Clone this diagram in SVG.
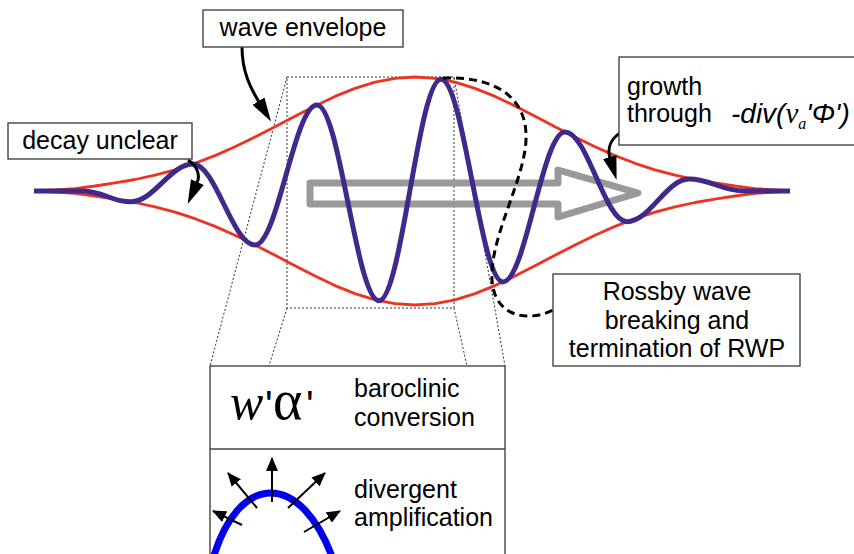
<svg xmlns="http://www.w3.org/2000/svg" width="854" height="554" viewBox="0 0 854 554">
<style>
.env{fill:none;stroke:#ee3322;stroke-width:2.8;stroke-linejoin:round}
.wave{fill:none;stroke:#3f2a8c;stroke-width:5;stroke-linejoin:round}
.dot{fill:none;stroke:#333;stroke-width:1;stroke-dasharray:2 2}
.box{fill:#fff;stroke:#444;stroke-width:1.4}
.lbl{font-family:"Liberation Sans",Arial,sans-serif;font-size:25px;fill:#000}
.conn{fill:none;stroke:#000;stroke-width:3}
.sm{fill:none;stroke:#000;stroke-width:2}
</style>
<defs>
<marker id="big" markerUnits="userSpaceOnUse" markerWidth="24" markerHeight="14" viewBox="0 0 24 14" refX="1" refY="7" orient="auto">
<path d="M0,0 L24,7 L0,14 z" fill="#000"/>
</marker>
<marker id="small" markerUnits="userSpaceOnUse" markerWidth="14" markerHeight="12" viewBox="0 0 14 12" refX="13" refY="6" orient="auto">
<path d="M0,0 L14,6 L0,12 z" fill="#000"/>
</marker>
</defs>
<rect width="854" height="554" fill="#fff"/>

<g id="zoom-frame">
<rect class="dot" x="287" y="77" width="167" height="231"/>
<line class="dot" x1="287" y1="77" x2="210" y2="366"/>
<line class="dot" x1="287" y1="308" x2="269" y2="366"/>
<line class="dot" x1="454" y1="308" x2="467" y2="366"/>
<line class="dot" x1="454" y1="77" x2="505" y2="366"/>
</g>

<g id="envelope">
<path class="env" d="M34,191 L55,190 L75,188.6 L95,186 L115,182.8 L135,179.5 L155,175.2 L175,169.8 L195,163.3 L215,155.6 L235,146.8 L255,137 L275,126.7 L295,116.2 L315,105.9 L335,96.4 L355,88.4 L375,82.2 L395,78.3 L415,77 L435,78.3 L455,82.2 L475,88.4 L495,96.4 L515,105.9 L535,116.2 L555,126.7 L575,137 L595,146.8 L615,155.6 L635,163.3 L655,169.8 L675,175.2 L695,179.5 L715,182.8 L735,186 L755,188.6 L775,190 L790,191"/>
<path class="env" d="M34,191 L55,192 L75,193.4 L95,196 L115,199.2 L135,202.5 L155,206.8 L175,212.2 L195,218.7 L215,226.4 L235,235.2 L255,245 L275,255.3 L295,265.8 L315,276.1 L335,285.6 L355,293.6 L375,299.8 L395,303.7 L415,305 L435,303.7 L455,299.8 L475,293.6 L495,285.6 L515,276.1 L535,265.8 L555,255.3 L575,245 L595,235.2 L615,226.4 L635,218.7 L655,212.2 L675,206.8 L695,202.5 L715,199.2 L735,196 L755,193.4 L775,192 L790,191"/>
</g>

<g id="propagation-arrow">
<path d="M310,183 L558,183 L558,170 L638,193 L558,217 L558,204 L310,204 Z" fill="none" stroke="#999" stroke-width="7" stroke-linejoin="round"/>
</g>

<g id="wave">
<path class="wave" d="M34,191 L80,191 C105,191 110,201.8 131,201.8 C153.5,201.8 170.5,164 193,164 C215.5,164 232.5,245 255,245 C277.5,245 294.5,104.9 317,104.9 C339.5,104.9 356.5,300.8 379,300.8 C401.5,300.8 418.5,79.2 441,79.2 C463.5,79.2 480.5,281.9 503,281.9 C525.5,281.9 542.5,131.9 565,131.9 C587.5,131.9 604.5,221.7 627,221.7 C649.5,221.7 666.5,179 689,179 C711.5,179 720,191 745,191 L790,191"/>
</g>

<g id="connectors">
<path class="conn" d="M443,78 C505,76 532,105 525,150 C519,190 490,240 492,280 C495,322 535,320 553,310" stroke-dasharray="8 5" stroke-width="3.3"/>
<path class="conn" d="M242,47 C242,72 251,89 259,102" marker-end="url(#big)"/>
<path class="conn" d="M188,160 C196,165 201,174 197,183" marker-end="url(#big)"/>
<path class="conn" d="M620,133 C611,139 607,148 610,158" marker-end="url(#big)"/>
</g>

<g id="label-wave-envelope">
<rect class="box" x="203" y="10" width="200" height="37"/>
<text class="lbl" x="303" y="36" text-anchor="middle">wave envelope</text>
</g>

<g id="label-decay">
<rect class="box" x="8" y="123" width="184" height="36"/>
<text class="lbl" x="100" y="149" text-anchor="middle">decay unclear</text>
</g>

<g id="label-growth">
<rect class="box" x="619" y="57" width="245" height="88"/>
<text class="lbl" x="627" y="95">growth</text>
<text class="lbl" x="627" y="122">through</text>
<text class="lbl" x="731" y="123" style="font-size:28px;font-style:italic">-div(<tspan font-family="Liberation Serif" style="font-size:29px">v</tspan><tspan font-family="Liberation Serif" style="font-size:16px" dy="6">a</tspan><tspan dy="-6">'Φ')</tspan></text>
</g>

<g id="label-rossby">
<rect class="box" x="553" y="274" width="247" height="92"/>
<text class="lbl" x="677" y="300" text-anchor="middle">Rossby wave</text>
<text class="lbl" x="677" y="329" text-anchor="middle">breaking and</text>
<text class="lbl" x="677" y="357" text-anchor="middle">termination of RWP</text>
</g>

<g id="detail-panel">
<rect class="box" x="210" y="366" width="295" height="200"/>
<line x1="210" y1="449" x2="505" y2="449" stroke="#444" stroke-width="1.4"/>
<text x="230" y="419" font-family="Liberation Serif" font-style="italic" font-size="50">w</text>
<text x="265" y="419" font-family="Liberation Sans" font-size="40">'</text>
<text x="273" y="419" font-family="Liberation Serif" font-size="56">α</text>
<text x="306" y="419" font-family="Liberation Sans" font-size="40">'</text>
<text class="lbl" x="354" y="397">baroclinic</text>
<text class="lbl" x="354" y="426">conversion</text>
<path d="M212,562 C238,470 302,470 334,562" fill="none" stroke="#0000ee" stroke-width="7"/>
<line class="sm" x1="272" y1="502" x2="272" y2="458" marker-end="url(#small)"/>
<line class="sm" x1="257" y1="508" x2="228" y2="473" marker-end="url(#small)"/>
<line class="sm" x1="288" y1="508" x2="325" y2="473" marker-end="url(#small)"/>
<line class="sm" x1="242" y1="525" x2="213" y2="511" marker-end="url(#small)"/>
<line class="sm" x1="304" y1="532" x2="340" y2="511" marker-end="url(#small)"/>
<text class="lbl" x="354" y="498">divergent</text>
<text class="lbl" x="354" y="526">amplification</text>
</g>
</svg>
